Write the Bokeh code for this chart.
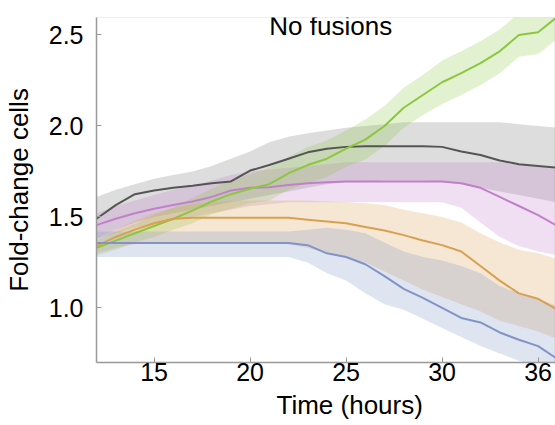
from bokeh.plotting import figure
from bokeh.models import Range1d, FixedTicker, Label, PrintfTickFormatter, Title
from bokeh.embed import file_html
from bokeh.resources import INLINE

# ---- data ----
time_h = [12, 13, 14, 15, 16, 17, 18, 19, 20, 21, 22, 23, 24, 25, 26, 27, 28, 29, 30, 31, 32, 33, 34, 35, 36]

gray_mean = [1.49, 1.565, 1.625, 1.645, 1.66, 1.672, 1.685, 1.695, 1.755, 1.785, 1.82, 1.855, 1.875, 1.885, 1.888, 1.888, 1.888, 1.888, 1.885, 1.86, 1.84, 1.81, 1.79, 1.78, 1.77]
gray_upper = [1.61, 1.65, 1.68, 1.71, 1.73, 1.75, 1.78, 1.82, 1.86, 1.91, 1.94, 1.96, 1.975, 1.99, 2.00, 2.01, 2.02, 2.02, 2.02, 2.02, 2.02, 2.02, 2.01, 2.00, 1.99]
gray_lower = [1.38, 1.43, 1.47, 1.50, 1.52, 1.54, 1.56, 1.58, 1.60, 1.62, 1.64, 1.66, 1.68, 1.69, 1.69, 1.70, 1.70, 1.70, 1.69, 1.68, 1.66, 1.64, 1.62, 1.60, 1.58]

purple_mean = [1.455, 1.49, 1.52, 1.545, 1.565, 1.585, 1.61, 1.645, 1.66, 1.663, 1.675, 1.685, 1.69, 1.695, 1.695, 1.695, 1.695, 1.695, 1.695, 1.685, 1.66, 1.61, 1.56, 1.51, 1.45]
purple_upper = [1.52, 1.56, 1.59, 1.62, 1.65, 1.67, 1.70, 1.73, 1.75, 1.76, 1.77, 1.78, 1.79, 1.80, 1.80, 1.80, 1.80, 1.80, 1.80, 1.80, 1.80, 1.80, 1.79, 1.78, 1.76]
purple_lower = [1.38, 1.41, 1.44, 1.46, 1.48, 1.50, 1.52, 1.54, 1.56, 1.57, 1.58, 1.58, 1.58, 1.58, 1.58, 1.58, 1.58, 1.58, 1.58, 1.55, 1.47, 1.39, 1.34, 1.31, 1.29]

green_mean = [1.33, 1.37, 1.41, 1.45, 1.49, 1.535, 1.585, 1.625, 1.655, 1.68, 1.74, 1.785, 1.82, 1.875, 1.925, 2.00, 2.10, 2.17, 2.24, 2.29, 2.345, 2.41, 2.50, 2.515, 2.60]
green_upper = [1.37, 1.42, 1.46, 1.51, 1.55, 1.605, 1.655, 1.705, 1.735, 1.77, 1.83, 1.885, 1.92, 1.975, 2.035, 2.11, 2.21, 2.28, 2.36, 2.41, 2.465, 2.53, 2.62, 2.635, 2.72]
green_lower = [1.29, 1.32, 1.36, 1.39, 1.43, 1.465, 1.515, 1.545, 1.575, 1.59, 1.65, 1.685, 1.72, 1.775, 1.815, 1.89, 1.99, 2.06, 2.12, 2.17, 2.225, 2.29, 2.38, 2.395, 2.48]

orange_mean = [1.34, 1.39, 1.43, 1.465, 1.49, 1.495, 1.495, 1.495, 1.495, 1.495, 1.495, 1.485, 1.475, 1.465, 1.445, 1.425, 1.40, 1.37, 1.345, 1.31, 1.23, 1.15, 1.08, 1.05, 0.99]
orange_upper = [1.38, 1.43, 1.48, 1.52, 1.55, 1.57, 1.58, 1.59, 1.59, 1.59, 1.59, 1.59, 1.585, 1.58, 1.575, 1.565, 1.54, 1.52, 1.50, 1.47, 1.41, 1.36, 1.32, 1.30, 1.27]
orange_lower = [1.30, 1.33, 1.35, 1.36, 1.36, 1.36, 1.36, 1.36, 1.36, 1.355, 1.35, 1.33, 1.30, 1.28, 1.25, 1.20, 1.15, 1.10, 1.06, 1.02, 0.98, 0.93, 0.90, 0.87, 0.83]

blue_mean = [1.357, 1.357, 1.357, 1.357, 1.357, 1.357, 1.357, 1.357, 1.357, 1.357, 1.357, 1.345, 1.30, 1.28, 1.24, 1.175, 1.105, 1.055, 1.00, 0.945, 0.92, 0.865, 0.825, 0.79, 0.72]
blue_upper = [1.42, 1.42, 1.42, 1.42, 1.42, 1.42, 1.42, 1.42, 1.42, 1.42, 1.42, 1.43, 1.44, 1.43, 1.41, 1.36, 1.31, 1.28, 1.26, 1.23, 1.19, 1.12, 1.08, 1.05, 1.01]
blue_lower = [1.28, 1.28, 1.28, 1.28, 1.28, 1.28, 1.28, 1.28, 1.28, 1.28, 1.28, 1.25, 1.19, 1.15, 1.08, 1.02, 0.99, 0.94, 0.89, 0.84, 0.79, 0.75, 0.71, 0.68, 0.65]

x_ticks = [15, 20, 25, 30, 35]
x_tick_labels = {35: "36"}
y_ticks = [1.0, 1.5, 2.0, 2.5]

title_text = "No fusions"
x_label_text = "Time (hours)"
y_label_text = "Fold-change cells"

series = [
    ("#555555", 0.20, gray_mean, gray_upper, gray_lower),
    ("#c27fcb", 0.25, purple_mean, purple_upper, purple_lower),
    ("#8dc63f", 0.25, green_mean, green_upper, green_lower),
    ("#d9a050", 0.25, orange_mean, orange_upper, orange_lower),
    ("#8094c8", 0.25, blue_mean, blue_upper, blue_lower),
]

FONT = "Liberation Sans"

p = figure(width=555, height=425, x_range=Range1d(12, 35.906), y_range=Range1d(0.70, 2.596),
           output_backend="svg", toolbar_location=None,
           min_border_left=96, min_border_right=0, min_border_top=17, min_border_bottom=63)

p.background_fill_color = "white"
p.border_fill_color = "white"
p.outline_line_color = "#eeeeee"
p.grid.visible = False

for color, alpha, mean, upper, lower in series:
    p.varea(x=time_h, y1=lower, y2=upper, fill_color=color, fill_alpha=alpha)
for color, alpha, mean, upper, lower in series:
    p.line(time_h, mean, line_color=color, line_width=2)

for ax in (p.xaxis[0], p.yaxis[0]):
    ax.axis_line_color = "#999999"
    ax.axis_line_width = 1.5
    ax.major_tick_line_color = "#999999"
    ax.major_tick_in = 5
    ax.major_tick_out = 0
    ax.minor_tick_line_color = None
    ax.major_label_text_font = FONT
    ax.major_label_text_font_size = "25px"
    ax.major_label_text_color = "black"

p.xaxis.ticker = FixedTicker(ticks=x_ticks)
p.xaxis.major_label_overrides = x_tick_labels
p.yaxis.ticker = FixedTicker(ticks=y_ticks)
p.yaxis.formatter = PrintfTickFormatter(format="%.1f")
p.xaxis.major_label_standoff = 0
p.yaxis.major_label_standoff = 13

p.yaxis.axis_label = y_label_text
p.yaxis.axis_label_standoff = 12
p.yaxis.axis_label_text_font = FONT
p.yaxis.axis_label_text_font_size = "26px"
p.yaxis.axis_label_text_font_style = "normal"
p.yaxis.axis_label_text_color = "black"

p.add_layout(Title(text=x_label_text, align="left", offset=180, standoff=9,
                   text_font=FONT, text_font_size="26px", text_font_style="normal",
                   text_color="black"), "below")

p.add_layout(Label(x=24.2, y=2.55, text=title_text, text_align="center",
                   text_baseline="alphabetic", text_font=FONT,
                   text_font_size="26px", text_color="black"))

open("out.html", "w").write(file_html(p, INLINE))
